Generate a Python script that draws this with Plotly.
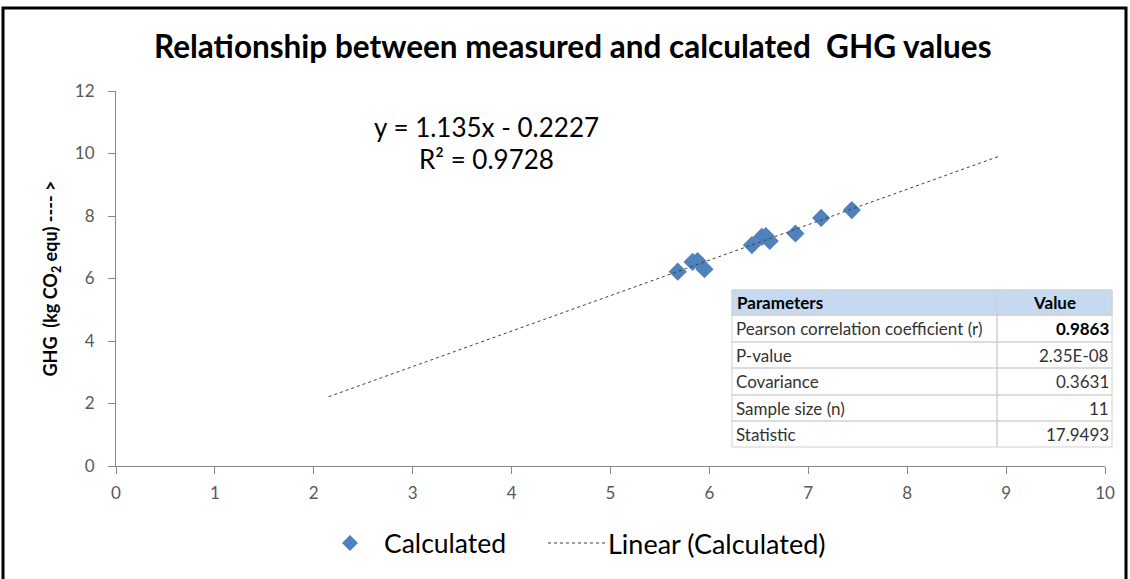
import plotly.graph_objects as go

# ---- data ----
measured = [5.68, 5.83, 5.88, 5.95, 6.43, 6.53, 6.57, 6.61, 6.87, 7.13, 7.44]
calculated = [6.22, 6.53, 6.56, 6.30, 7.07, 7.33, 7.36, 7.20, 7.44, 7.94, 8.19]
slope = 1.135
intercept = -0.2227
trend_x = [2.15, 8.94]
equation_text = "y = 1.135x - 0.2227"
r2_text = "R² = 0.9728"
table_params = ["Pearson correlation coefficient (r)", "P-value", "Covariance",
                "Sample size (n)", "Statistic"]
table_values = ["0.9863", "2.35E-08", "0.3631", "11", "17.9493"]
legend_names = ["Calculated", "Linear (Calculated)"]
x_ticks = list(range(0, 11))
y_ticks = list(range(0, 13, 2))

W, H = 1130, 579
L, R, T, B = 116, 25, 91, 113
PW, PH = W - L - R, H - T - B

def px(x):
    return (x - L) / PW

def py(y):
    return (H - B - y) / PH

FONT = "Lato"
MARKER_COLOR = "#4F81BD"
trend_y = [slope * v + intercept for v in trend_x]

fig = go.Figure()
fig.add_trace(go.Scatter(
    x=measured, y=calculated, mode="markers", name=legend_names[0],
    marker=dict(symbol="diamond", size=14, color=MARKER_COLOR, line=dict(width=0)),
))
fig.add_trace(go.Scatter(
    x=trend_x, y=trend_y, mode="lines", name=legend_names[1],
    line=dict(color="#404040", width=1, dash="dot"),
))

annotations = [
    dict(text="<b>Relationship between measured and calculated  GHG values</b>",
         x=px(573), y=py(46), xref="paper", yref="paper", showarrow=False,
         font=dict(family=FONT, size=31.5, color="#000000"), xanchor="center", yanchor="middle"),
    dict(text=equation_text, x=3.75, y=10.85, xref="x", yref="y", showarrow=False,
         font=dict(family=FONT, size=26, color="#000000"), xanchor="center", yanchor="middle"),
    dict(text=r2_text, x=3.75, y=9.83, xref="x", yref="y", showarrow=False,
         font=dict(family=FONT, size=26, color="#000000"), xanchor="center", yanchor="middle"),
]

shapes = [
    dict(type="rect", xref="paper", yref="paper", x0=px(3), x1=px(1126), y0=py(590), y1=py(8),
         line=dict(color="#000000", width=3), fillcolor="rgba(0,0,0,0)", layer="above"),
]

# table
tx0, tx1, tcol = 732, 1112, 997
row_edges = [290, 315, 342, 368, 395, 421, 447]
shapes.append(dict(type="rect", xref="paper", yref="paper", x0=px(tx0), x1=px(tx1),
                   y0=py(row_edges[-1]), y1=py(row_edges[0]), fillcolor="#FFFFFF",
                   line=dict(color="#D0D0D0", width=1), layer="above"))
shapes.append(dict(type="rect", xref="paper", yref="paper", x0=px(tx0), x1=px(tx1),
                   y0=py(row_edges[1]), y1=py(row_edges[0]), fillcolor="#C5D9F1",
                   line=dict(color="#D0D0D0", width=1), layer="above"))
for e in row_edges[1:-1]:
    shapes.append(dict(type="line", xref="paper", yref="paper", x0=px(tx0), x1=px(tx1),
                       y0=py(e), y1=py(e), line=dict(color="#D0D0D0", width=1.5), layer="above"))
shapes.append(dict(type="line", xref="paper", yref="paper", x0=px(tcol), x1=px(tcol),
                   y0=py(row_edges[0]), y1=py(row_edges[-1]), line=dict(color="#D0D0D0", width=1.5),
                   layer="above"))

headers = ["<b>Parameters</b>", "<b>Value</b>"]
hy = (row_edges[0] + row_edges[1]) / 2
annotations.append(dict(text=headers[0], x=px(tx0 + 3), y=py(hy), xref="paper", yref="paper",
                        showarrow=False, xanchor="left", yanchor="middle",
                        font=dict(family=FONT, size=17, color="#000000")))
annotations.append(dict(text=headers[1], x=px((tcol + tx1) / 2), y=py(hy), xref="paper", yref="paper",
                        showarrow=False, xanchor="center", yanchor="middle",
                        font=dict(family=FONT, size=17, color="#000000")))
for i, (p, v) in enumerate(zip(table_params, table_values)):
    cy = (row_edges[i + 1] + row_edges[i + 2]) / 2
    annotations.append(dict(text=p, x=px(tx0 + 2), y=py(cy), xref="paper", yref="paper",
                            showarrow=False, xanchor="left", yanchor="middle",
                            font=dict(family=FONT, size=17, color="#333333")))
    vt = "<b>%s</b>" % v if i == 0 else v
    annotations.append(dict(text=vt, x=px(tx1 - 1), y=py(cy), xref="paper", yref="paper",
                            showarrow=False, xanchor="right", yanchor="middle",
                            font=dict(family=FONT, size=17, color="#000000" if i == 0 else "#333333")))

# manual legend
leg_y = 543
shapes.append(dict(type="path", xref="paper", yref="paper",
                   path="M %f %f L %f %f L %f %f L %f %f Z" % (
                       px(350), py(leg_y - 8), px(358), py(leg_y), px(350), py(leg_y + 8),
                       px(342), py(leg_y)),
                   fillcolor=MARKER_COLOR, line=dict(width=0), layer="above"))
annotations.append(dict(text=legend_names[0], x=px(382), y=py(leg_y), xref="paper", yref="paper",
                        showarrow=False, xanchor="left", yanchor="middle",
                        font=dict(family=FONT, size=26.5, color="#000000")))
shapes.append(dict(type="line", xref="paper", yref="paper", x0=px(548), x1=px(605),
                   y0=py(leg_y), y1=py(leg_y), line=dict(color="#404040", width=1, dash="dot"),
                   layer="above"))
annotations.append(dict(text=legend_names[1], x=px(606), y=py(leg_y), xref="paper", yref="paper",
                        showarrow=False, xanchor="left", yanchor="middle",
                        font=dict(family=FONT, size=27, color="#000000")))

fig.update_layout(
    width=W, height=H,
    margin=dict(l=L, r=R, t=T, b=B, autoexpand=False),
    paper_bgcolor="#FFFFFF", plot_bgcolor="#FFFFFF",
    showlegend=False,
    xaxis=dict(range=[0, 10], tickvals=x_ticks, showgrid=False, zeroline=False,
               showline=True, linecolor="#868686", linewidth=1, ticks="outside",
               ticklen=7, tickcolor="#868686", mirror=False, ticklabelstandoff=5,
               tickfont=dict(family=FONT, size=17, color="#595959")),
    yaxis=dict(range=[0, 12], tickvals=y_ticks, showgrid=False, zeroline=False,
               showline=True, linecolor="#868686", linewidth=1, ticks="outside",
               ticklen=7, tickcolor="#868686", ticklabelstandoff=10,
               tickfont=dict(family=FONT, size=17, color="#595959"),
               title=dict(text="<b>GHG  (kg CO<sub>2</sub> equ) ---- ></b>",
                          font=dict(family=FONT, size=18, color="#000000"), standoff=12)),
    annotations=annotations,
    shapes=shapes,
)

fig.write_html("out.html", config={"displayModeBar": False},
               post_script="document.body.style.margin='0';document.body.style.padding='0';")
